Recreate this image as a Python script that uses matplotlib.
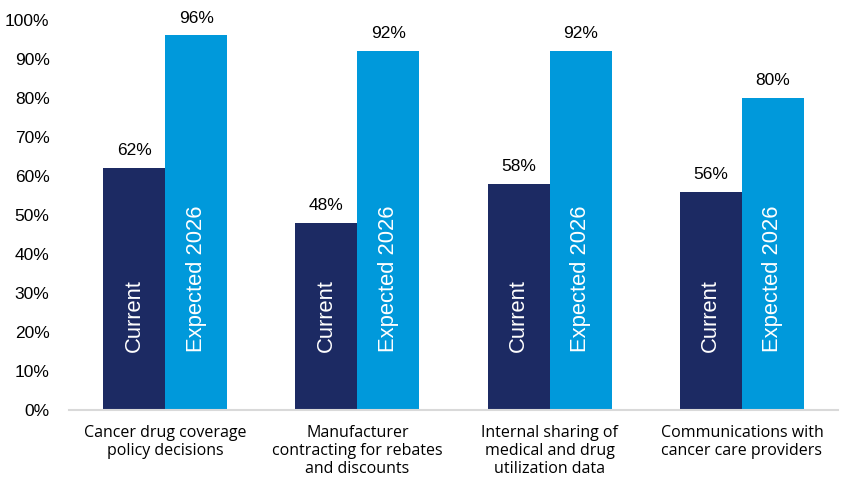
import matplotlib.pyplot as plt
import numpy as np

# data
categories = ["Cancer drug coverage\npolicy decisions",
              "Manufacturer\ncontracting for rebates\nand discounts",
              "Internal sharing of\nmedical and drug\nutilization data",
              "Communications with\ncancer care providers"]
current = [62, 48, 58, 56]
expected = [96, 92, 92, 80]
series_names = ["Current", "Expected 2026"]

plt.rcParams['font.family'] = ['Liberation Sans', 'DejaVu Sans']

fig = plt.figure(figsize=(8.55, 4.96), dpi=100)
ax = fig.add_axes([69 / 855, 0.173, 769 / 855, 0.787])

x = np.arange(len(categories))
w = 0.323
b1 = ax.bar(x - w / 2, current, w, color="#1C2A63")
b2 = ax.bar(x + w / 2, expected, w, color="#0099DB")

# value labels above bars
for bars in (b1, b2):
    for r in bars:
        ax.annotate(f"{r.get_height():.0f}%", (r.get_x() + r.get_width() / 2, r.get_height()),
                    xytext=(0, 7), textcoords="offset points", ha="center", va="bottom",
                    fontsize=12.5, color="black")

# series names inside bars
for i in range(len(categories)):
    ax.text(x[i] - w / 2, 15, series_names[0], rotation=90, ha="center", va="bottom",
            color="white", fontsize=15.8)
    ax.text(x[i] + w / 2, 15, series_names[1], rotation=90, ha="center", va="bottom",
            color="white", fontsize=15.8)

ax.set_xlim(-0.5, len(categories) - 0.5)
ax.set_ylim(0, 100)
ax.set_yticks(range(0, 101, 10))
ax.set_yticklabels([f"{v}%" for v in range(0, 101, 10)], fontsize=12.5)
ax.set_xticks(x)
ax.set_xticklabels(categories, fontsize=11.5, linespacing=1.15,
                   family=["Open Sans", "DejaVu Sans"])
ax.tick_params(axis="both", length=0)
ax.tick_params(axis="x", pad=11)
ax.tick_params(axis="y", pad=14)

for s in ["top", "right", "left"]:
    ax.spines[s].set_visible(False)
ax.spines["bottom"].set_color("#D9D9D9")
ax.spines["bottom"].set_linewidth(1.5)

fig.savefig("out.png", dpi=100)
